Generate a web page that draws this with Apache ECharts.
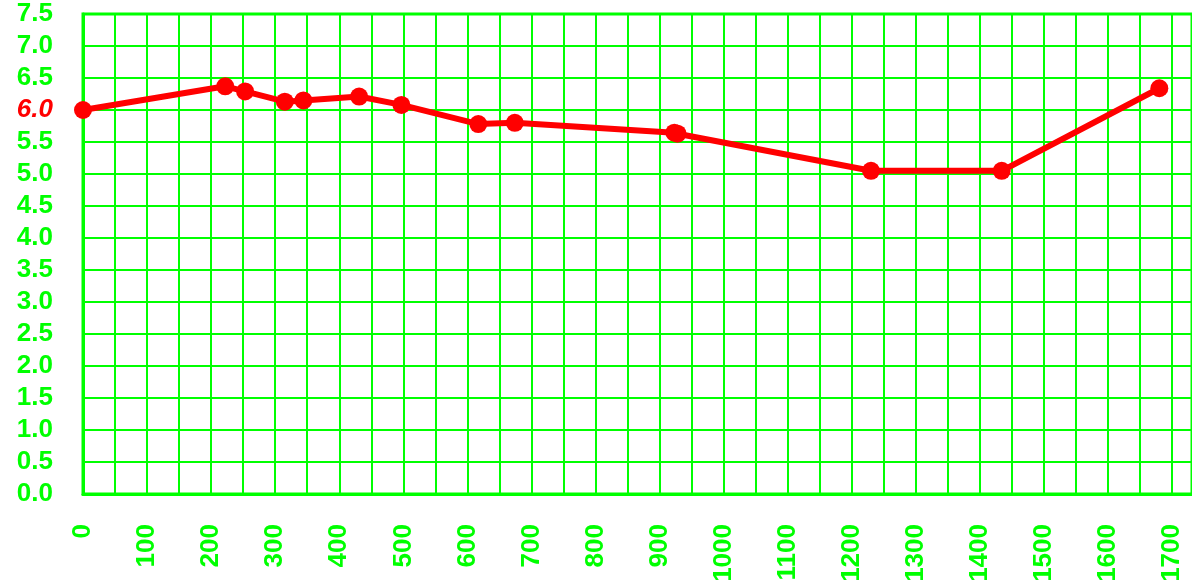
<!DOCTYPE html>
<html>
<head>
<meta charset="utf-8">
<script src="https://cdn.jsdelivr.net/npm/echarts@6/dist/echarts.min.js"></script>
<style>html,body{margin:0;padding:0;background:#fff;}#c{width:1192px;height:586px;}</style>
</head>
<body>
<div id="c"></div>
<script>
const xValues = [0, 222, 253, 315, 344, 431, 497, 617, 674, 923, 928, 1230, 1434, 1680];
const yValues = [6.0, 6.37, 6.29, 6.13, 6.15, 6.21, 6.08, 5.78, 5.80, 5.645, 5.63, 5.05, 5.05, 6.34];
const xTickStep = 100;
const yTickStep = 0.5;

const green = '#00ff00';
const red = '#ff0000';
const font = '"Liberation Sans", Arial, sans-serif';
const chart = echarts.init(document.getElementById('c'), null, {renderer: 'canvas'});
chart.setOption({
  animation: false,
  backgroundColor: '#fff',
  grid: {left: 83, top: 14, right: 0, bottom: 92, show: true, borderColor: green, borderWidth: 3, containLabel: false},
  xAxis: {
    type: 'value', min: 0, max: 1731, interval: 50,
    axisLine: {show: true, lineStyle: {color: green, width: 3}},
    axisTick: {show: false},
    splitLine: {show: true, lineStyle: {color: green, width: 2}},
    axisLabel: {
      rotate: 90, margin: 30, showMaxLabel: false, color: green, fontWeight: 'bold', fontSize: 26, fontFamily: font,
      formatter: v => (v % xTickStep === 0 ? String(v) : '')
    }
  },
  yAxis: {
    type: 'value', min: 0, max: 7.5, interval: yTickStep,
    axisLine: {show: true, lineStyle: {color: green, width: 3}},
    axisTick: {show: false},
    splitLine: {show: true, lineStyle: {color: green, width: 2}},
    axisLabel: {
      margin: 30, fontFamily: font,
      formatter: v => (Math.abs(v - 6) < 1e-9 ? '{r|' + v.toFixed(1) + '}' : '{g|' + v.toFixed(1) + '}'),
      rich: {
        g: {color: green, fontWeight: 'bold', fontSize: 26, fontFamily: font},
        r: {color: red, fontWeight: 'bold', fontStyle: 'italic', fontSize: 26, fontFamily: font}
      }
    }
  },
  series: [{
    type: 'line',
    data: xValues.map((x, i) => [x, yValues[i]]),
    symbol: 'circle', symbolSize: 18,
    lineStyle: {color: red, width: 6},
    itemStyle: {color: red},
    z: 5
  }]
});
</script>
</body>
</html>
